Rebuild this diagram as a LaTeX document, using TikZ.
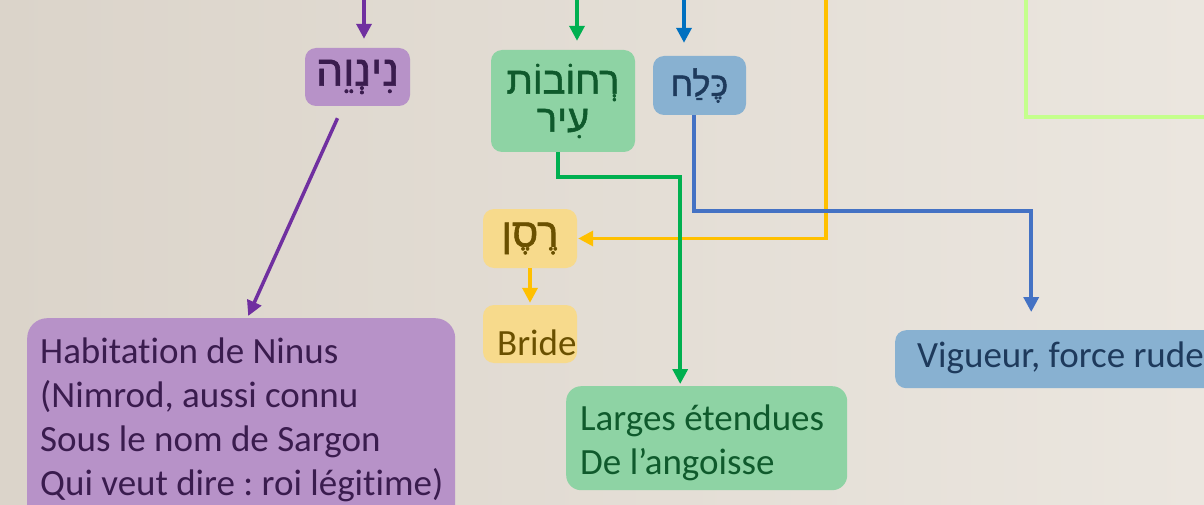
\documentclass[tikz,border=0pt]{standalone}
\usepackage{fontspec}
\setmainfont{Carlito}[Ligatures=NoCommon]
\newfontfamily\hebfont[Script=Hebrew,FakeBold=1.5]{Liberation Sans}
\TeXXeTstate=1
\frenchspacing
\usetikzlibrary{arrows.meta}
\definecolor{bgl}{HTML}{DBD4CA}
\definecolor{bgr}{HTML}{EBE6DF}
\definecolor{purpL}{HTML}{7030A0}
\definecolor{purpF}{HTML}{B792C8}
\definecolor{purpT}{HTML}{3A1C4E}
\definecolor{greenL}{HTML}{00B050}
\definecolor{greenF}{HTML}{8ED3A4}
\definecolor{greenT}{HTML}{0F5A2C}
\definecolor{blueL}{HTML}{0070C0}
\definecolor{blueD}{HTML}{4472C4}
\definecolor{blueF}{HTML}{88B1D1}
\definecolor{blueT}{HTML}{1E3A5C}
\definecolor{yelL}{HTML}{FFC000}
\definecolor{yelF}{HTML}{F7DA8C}
\definecolor{yelT}{HTML}{6A5000}
\definecolor{limeL}{HTML}{C4FF8C}
\begin{document}
\begin{tikzpicture}[x=1pt,y=-1pt,
  box/.style={rounded corners=11pt, inner sep=0pt},
  conn/.style={line width=3.5pt, -{Triangle[length=15pt,width=15pt]}},
  heb/.style={font=\hebfont\fontsize{#1}{38}\selectfont},
  lat/.style={font=\fontsize{37}{44}\selectfont}]
\useasboundingbox (0,0) rectangle (1204,505);
\clip (0,0) rectangle (1204,505);
\shade[left color=bgl, right color=bgr] (0,0) rectangle (1204,505);

% light green frame of an off-picture box
\draw[limeL, line width=4pt] (1026,-5) -- (1026,117) -- (1210,117);

% nodes
\node[box, fill=purpF, minimum width=105pt, minimum height=58pt, text=purpT, heb=43] (ninve) at (357.5,77) {\beginR נִינְוֵה\endR};
\node[box, rounded corners=20pt, fill=purpF, minimum width=428pt, minimum height=220pt, anchor=north west] (ninus) at (27,318) {};
\node[lat, text=purpT, align=left, anchor=north west, inner sep=0pt] (ninustext) at (40,337.5) {Habitation de Ninus\\(Nimrod, aussi connu\\Sous le nom de Sargon\\Qui veut dire : roi légitime)};

\node[box, fill=greenF, minimum width=144pt, minimum height=102pt, text=greenT, heb=38, align=center] (rechovot) at (563,101) {\beginR רְחוֹבוֹת\endR\\\beginR עִיר\endR};
\node[box, fill=blueF, minimum width=93pt, minimum height=59pt, text=blueT, heb=34] (kelach) at (699.5,85.5) {\beginR כֶּלַח\endR};

\node[box, fill=yelF, minimum width=94pt, minimum height=59pt, text=yelT, heb=40] (resen) at (530,238.5) {\beginR רֶסֶן\endR};
\node[box, fill=yelF, minimum width=94pt, minimum height=58pt] (bride) at (530,334) {};
\node[lat, text=yelT, anchor=base west, inner sep=0pt] (bridetext) at (497,355) {Bride};

\node[box, rounded corners=15pt, fill=greenF, minimum width=281pt, minimum height=104pt, anchor=north west] (larges) at (566,386) {};
\node[lat, text=greenT, align=left, anchor=north west, inner sep=0pt] (largestext) at (580,404.5) {Larges étendues\\De l’angoisse};

\node[box, fill=blueF, minimum width=320pt, minimum height=58pt, anchor=north west] (vigueur) at (895,330) {};
\node[lat, text=blueT, anchor=base west, inner sep=0pt] (vigueurtext) at (917,367) {Vigueur, force rude};

% free ends at the top
\coordinate (ptop) at (364,-2);
\coordinate (gtop) at (577,-2);
\coordinate (btop) at (684,-2);
\coordinate (ytop) at (826,-2);

% connectors
\draw[conn, purpL] (ptop) -- (ptop |- ninve.north) [shorten >=9pt];
\draw[conn, greenL] (gtop) -- (gtop |- rechovot.north) [shorten >=9pt];
\draw[conn, blueL] (btop) -- (btop |- kelach.north) [shorten >=13pt];
\draw[conn, purpL] ([xshift=-20pt,yshift=-12pt]ninve.south) -- ([xshift=7pt,yshift=2pt]ninus.north);
\draw[conn, yelL] (ytop) |- ([xshift=1pt]resen.east);
\draw[conn, yelL] (resen.south) -- (bride.north) [shorten >=2pt];
\draw[conn, greenL] ([xshift=-5pt]rechovot.south) -- ++(0,25) -| ([xshift=-26.5pt]larges.north) [shorten >=2pt];
\draw[conn, blueD] ([xshift=-5.5pt]kelach.south) -- ++(0,96) -| ([xshift=-24pt]vigueur.north) [shorten >=18pt];
\end{tikzpicture}
\end{document}
